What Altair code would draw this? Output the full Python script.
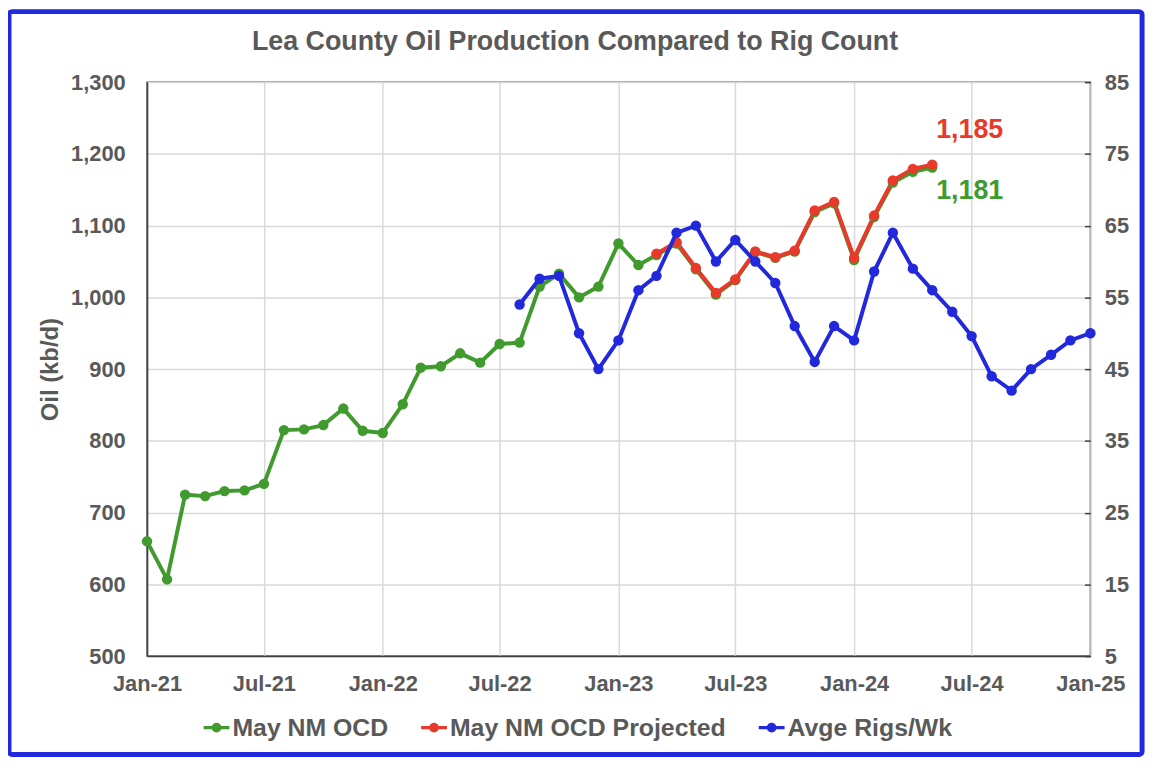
import altair as alt
import pandas as pd

# ---------------- data ----------------
green_dates = pd.date_range("2021-01-01", periods=41, freq="MS").strftime("%Y-%m-%d").tolist()
green_values = [660, 607, 725, 723, 730, 731, 740, 815, 816, 822, 845, 814,
                811, 851, 902, 904, 922, 909, 935, 937, 1015, 1033, 1000, 1015,
                1075, 1045, 1059, 1075, 1039, 1004, 1024, 1063, 1055, 1064, 1119, 1131,
                1052, 1112, 1160, 1175, 1181]

red_dates = pd.date_range("2023-03-01", periods=15, freq="MS").strftime("%Y-%m-%d").tolist()
red_values = [1061, 1077, 1041, 1006, 1025, 1064, 1056, 1065, 1121, 1133,
              1055, 1114, 1163, 1179, 1185]

blue_dates = pd.date_range("2022-08-01", periods=30, freq="MS").strftime("%Y-%m-%d").tolist()
blue_values = [54, 57.6, 58, 50, 45, 49, 56, 58, 64, 65, 60, 63, 60, 57, 51, 46, 51,
               49, 58.6, 64, 59, 56, 53, 49.6, 44, 42, 45, 47, 49, 50]

series_names = ["May NM OCD", "May NM OCD Projected", "Avge Rigs/Wk"]
series_colors = ["#409A2E", "#E8392A", "#2229DC"]

tick_dates = pd.date_range("2021-01-01", periods=9, freq="6MS")
title_text = "Lea County Oil Production Compared to Rig Count"

FONT = "Liberation Sans"
TXT = "#595959"

oil_df = pd.concat([
    pd.DataFrame({"date": green_dates, "value": green_values, "series": series_names[0]}),
    pd.DataFrame({"date": red_dates, "value": red_values, "series": series_names[1]}),
])
rig_df = pd.DataFrame({"date": blue_dates, "value": blue_values, "series": series_names[2]})

ann_df = pd.DataFrame({
    "date": [red_dates[-1], green_dates[-1]],
    "value": [red_values[-1], green_values[-1]],
    "label": [f"{red_values[-1]:,}", f"{green_values[-1]:,}"],
})

color_scale = alt.Scale(domain=series_names, range=series_colors)

x_enc = alt.X(
    "date:T",
    scale=alt.Scale(type="utc",
                    domain=[alt.DateTime(year=2021, month=1, date=1, utc=True),
                            alt.DateTime(year=2025, month=1, date=1, utc=True)]),
    axis=alt.Axis(
        values=[alt.DateTime(year=d.year, month=d.month, date=1, utc=True) for d in tick_dates],
        labelExpr="utcFormat(datum.value, '%b-%y')", title=None,
        labelFont=FONT, labelFontSize=22, labelFontWeight="bold", labelColor=TXT,
        labelPadding=18, ticks=False, grid=True, gridColor="#D9D9D9", gridWidth=1.5,
        domainColor="#404040", domainWidth=1.5, labelFlush=False,
    ),
)

left_axis = alt.Axis(
    values=list(range(500, 1301, 100)), labelExpr="format(datum.value, ',')", title="Oil (kb/d)",
    titleFont=FONT, titleFontSize=24, titleFontWeight="bold", titleColor=TXT,
    titleX=-97, titleY=289, titleAlign="center", titleBaseline="middle", titleAngle=-90,
    labelFont=FONT, labelFontSize=22, labelFontWeight="bold", labelColor=TXT,
    labelPadding=22, ticks=False, grid=True, gridColor="#D9D9D9", gridWidth=1.5,
    domainColor="#404040", domainWidth=1.5, orient="left",
)

right_axis = alt.Axis(
    values=list(range(5, 86, 10)), title=None, orient="right", offset=-6,
    labelFont=FONT, labelFontSize=22, labelFontWeight="bold", labelColor=TXT,
    labelPadding=14, ticks=True, tickSize=6, tickColor="#404040", tickWidth=1.5,
    grid=False, domain=False,
)

legend_symbol = "M-1,-0.12H1V0.12H-1Z M0.38,0A0.38,0.38 0 1 1 -0.38,0A0.38,0.38 0 1 1 0.38,0Z"
legend_def = alt.Legend(
    title=None, orient="none", direction="horizontal", legendX=57, legendY=637,
    symbolType=legend_symbol, symbolSize=676, symbolStrokeWidth=0, symbolOpacity=1,
    labelFont=FONT, labelFontSize=25, labelFontWeight="bold", labelColor=TXT,
    labelOffset=3, columnPadding=33, labelLimit=400,
)

# ---------------- oil layer ----------------
oil_base = alt.Chart(oil_df)
oil_y = alt.Y("value:Q", scale=alt.Scale(domain=[500, 1300], nice=False, zero=False), axis=left_axis)
oil_color = alt.Color("series:N", scale=color_scale, legend=legend_def)
oil_lines = oil_base.mark_line(strokeWidth=4).encode(x=x_enc, y=oil_y, color=oil_color)
oil_points = oil_base.mark_point(filled=True, size=110, opacity=1).encode(x=x_enc, y=oil_y, color=oil_color)

ann_red = alt.Chart(ann_df.iloc[[0]]).mark_text(
    font=FONT, fontSize=27, fontWeight="bold", color=series_colors[1],
    align="left", baseline="middle", dx=4, dy=-35,
).encode(x=x_enc, y=oil_y, text="label:N")
ann_green = alt.Chart(ann_df.iloc[[1]]).mark_text(
    font=FONT, fontSize=27, fontWeight="bold", color=series_colors[0],
    align="left", baseline="middle", dx=4, dy=24,
).encode(x=x_enc, y=oil_y, text="label:N")

oil_layer = alt.layer(oil_lines, oil_points, ann_red, ann_green)

# ---------------- rig layer ----------------
rig_base = alt.Chart(rig_df)
rig_y = alt.Y("value:Q", scale=alt.Scale(domain=[5, 85], nice=False, zero=False), axis=right_axis)
rig_lines = rig_base.mark_line(strokeWidth=4).encode(x=x_enc, y=rig_y, color=oil_color)
rig_points = rig_base.mark_point(filled=True, size=110, opacity=1).encode(x=x_enc, y=rig_y, color=oil_color)
rig_layer = alt.layer(rig_lines, rig_points)

# ---------------- decorations ----------------
border = alt.Chart(pd.DataFrame({"k": [0]})).mark_rect(
    fill="transparent", stroke="#2229DC", strokeWidth=5, cornerRadius=3,
).encode(x=alt.value(-139), x2=alt.value(1002), y=alt.value(-71), y2=alt.value(677))

title = alt.Chart(pd.DataFrame({"t": [title_text]})).mark_text(
    font=FONT, fontSize=27, fontWeight="bold", color=TXT, align="center", baseline="alphabetic",
).encode(text="t:N", x=alt.value(431), y=alt.value(-32))

chart = alt.layer(border, oil_layer, rig_layer, title).resolve_scale(y="independent").properties(
    width=950, height=578,
    padding={"left": 140, "top": 72, "right": 62, "bottom": 105},
    autosize=alt.AutoSizeParams(type="none"),
    background="white",
).configure_view(stroke="#404040", strokeWidth=1.5)

chart.save("out.html", embed_options={"renderer": "svg", "actions": False})
